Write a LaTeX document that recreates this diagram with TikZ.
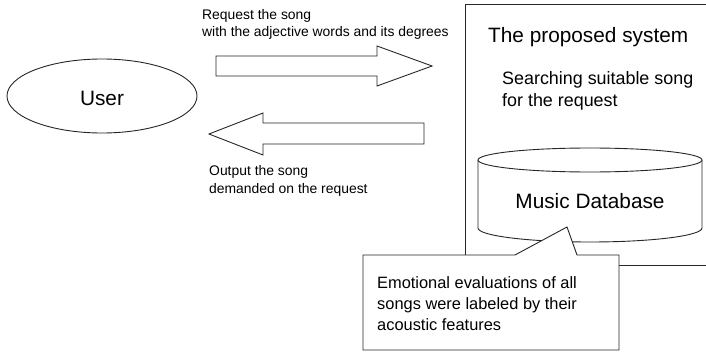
\documentclass[tikz,border=0pt]{standalone}
\usepackage{fontspec}
\setmainfont{Liberation Sans}
\usetikzlibrary{shapes.geometric}
\tikzset{
  outline/.style={draw=black!85, line width=0.9pt, fill=white, line join=miter},
  small/.style={font=\fontsize{13.9}{17}\selectfont, inner sep=0pt, anchor=base west},
  big/.style={font=\fontsize{20.8}{24}\selectfont, inner sep=0pt},
  mid/.style={font=\fontsize{17.9}{20}\selectfont, inner sep=0pt, anchor=base west},
  note/.style={font=\fontsize{16.4}{20}\selectfont, inner sep=0pt, anchor=base west},
}
\begin{document}
\begin{tikzpicture}[x=1pt,y=-1pt]
\useasboundingbox (0,0) rectangle (706,353);
\clip (0,0) rectangle (706,353);
% system box (right side runs off the picture)
\draw[outline] (465,4) rectangle (730,265);
\node[big, anchor=base west] (title) at (488,42) {The proposed system};
\node[mid] (search1) at (502,84) {Searching suitable song};
\node[mid] (search2) at (502,106) {for the request};
% database cylinder
\draw[outline] (478,160) -- (478,228) arc[start angle=180, end angle=0, x radius=112, y radius=14] -- (702,160);
\draw[outline] (590,160) ellipse[x radius=112, y radius=12];
\node[big, anchor=base] (db) at (590,208) {Music Database};
% user
\node[outline, ellipse, minimum width=190pt, minimum height=74pt, inner sep=0pt] (user) at (102,96) {};
\node[big, anchor=base] (userlabel) at (102,105) {User};
% arrows
\draw[outline] (216,56) -- (377,56) -- (377,46) -- (432,66) -- (377,86) -- (377,76) -- (216,76) -- cycle;
\draw[outline] (424,123) -- (263,123) -- (263,113) -- (209,134) -- (263,155) -- (263,144) -- (424,144) -- cycle;
\node[small] (req1) at (202,20) {Request the song};
\node[small] (req2) at (202,37) {with the adjective words and its degrees};
\node[small] (out1) at (209,175) {Output the song};
\node[small] (out2) at (209,193) {demanded on the request};
% callout
\draw[outline] (363,255) -- (515,255) -- (567,227) -- (577,255) -- (619,255) -- (619,350) -- (363,350) -- cycle;
\node[note] (note1) at (377,288) {Emotional evaluations of all};
\node[note] (note2) at (377,309) {songs were labeled by their};
\node[note] (note3) at (377,330) {acoustic features};
\end{tikzpicture}
\end{document}
